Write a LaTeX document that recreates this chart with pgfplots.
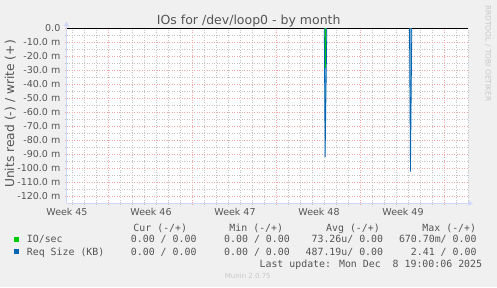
\documentclass[border=0pt]{standalone}
\usepackage{pgfplots}
\pgfplotsset{compat=1.18}
\usepackage{fontspec}
\setmainfont{DejaVu Sans}
\newfontfamily\monofont{DejaVu Sans Mono}
\usetikzlibrary{arrows.meta}
\definecolor{bgc}{HTML}{F0F0F0}
\definecolor{fontc}{HTML}{555555}
\definecolor{axisc}{HTML}{CFD6F8}
\definecolor{gridc}{HTML}{C4C4C4}
\definecolor{mgridc}{HTML}{F0A8A8}
\definecolor{ioc}{HTML}{00CC00}
\definecolor{reqc}{HTML}{0066B3}
\definecolor{wmc}{HTML}{C8C8C8}
\begin{document}
\begin{tikzpicture}[x=1bp,y=1bp]
\fill[bgc] (0,0) rectangle (497,287);
\useasboundingbox (0,0) rectangle (497,287);
\begin{axis}[
  at={(66.5bp,83.7bp)}, anchor=south west,
  scale only axis, width=401.8bp, height=175bp,
  xmin=-0.48, xmax=33, ymin=-125, ymax=0,
  axis background/.style={fill=white},
  axis lines=left,
  x axis line style={draw=axisc, line width=1bp, shorten >=-4.7bp, -{Triangle[length=5bp,width=5bp,fill=axisc]}},
  y axis line style={draw=axisc, line width=1bp, shorten >=-6.8bp, -{Triangle[length=5bp,width=5bp,fill=axisc]}},
  tick align=outside,
  major tick length=2bp, minor tick length=2bp,
  major tick style={draw=mgridc, line width=0.8bp},
  minor tick style={draw=gridc, line width=0.8bp},
  grid=both,
  major grid style={draw=mgridc, line width=0.9bp, dash pattern=on 1bp off 1.5bp},
  minor grid style={draw=gridc, line width=0.9bp, dash pattern=on 1bp off 1.5bp},
  xtick={3,10,17,24,31},
  xticklabels={},
  minor xtick={0,1,2,4,5,6,7,8,9,11,12,13,14,15,16,18,19,20,21,22,23,25,26,27,28,29,30,32,33},
  extra x ticks={-0.44,6.56,13.56,20.56,27.56},
  extra x tick labels={Week 45,Week 46,Week 47,Week 48,Week 49},
  extra x tick style={grid=none, major tick length=0pt},
  ytick={-120,-110,...,0},
  yticklabels={-120.0 m,-110.0 m,-100.0 m,-90.0 m,-80.0 m,-70.0 m,-60.0 m,-50.0 m,-40.0 m,-30.0 m,-20.0 m,-10.0 m,0.0},
  minor ytick={-115,-105,...,-5},
  tick label style={font=\fontsize{9.5bp}{11bp}\selectfont, text=fontc},
  yticklabel style={anchor=east, inner sep=0pt, xshift=-4bp},
  xticklabel style={anchor=base, inner sep=0pt, yshift=-12.5bp},
]
\addplot[black, line width=1.6bp] coordinates {(-0.48,0) (33,0)};
\addplot[draw=reqc, fill=reqc!55, line width=0.8bp] coordinates {(21.0,0) (21.07,-92.1) (21.21,0)};
\addplot[ioc, line width=0.75bp] coordinates {(21.08,0) (21.1,-28.5) (21.12,0)};
\addplot[draw=reqc, fill=reqc!55, line width=0.8bp] coordinates {(28.1,0) (28.18,-102.4) (28.29,0)};
\end{axis}
% title and labels
\node[text=fontc, font=\fontsize{12.5bp}{14bp}\selectfont, inner sep=0pt, anchor=base] at (248.7,263) {IOs for /dev/loop0 - by month};
\node[text=fontc, font=\fontsize{12.3bp}{14bp}\selectfont, inner sep=0pt, rotate=90] at (10.3,173) {Units read (-) / write (+)};
\node[text=wmc, font=\fontsize{7.5bp}{9bp}\selectfont, inner sep=0pt, rotate=-90] at (488,233.7) {RRDTOOL / TOBI OETIKER};
% legend
\begin{scope}[every node/.style={text=fontc, inner sep=0pt, font=\fontsize{9.9bp}{12bp}\monofont}]
\node[anchor=base east] at (187.3,55.8) {Cur (-/+)};
\node[anchor=base east] at (283.3,55.8) {Min (-/+)};
\node[anchor=base east] at (380,55.8) {Avg (-/+)};
\node[anchor=base east] at (476.3,55.8) {Max (-/+)};
\fill[ioc] (14,45.2) rectangle (19.3,50);
\node[anchor=base west] at (26.7,44.1) {IO/sec};
\node[anchor=base east] at (196.7,44.1) {0.00 / 0.00};
\node[anchor=base east] at (290,44.1) {0.00 / 0.00};
\node[anchor=base east] at (383.3,44.1) {73.26u/ 0.00};
\node[anchor=base east] at (476.7,44.1) {670.70m/ 0.00};
\fill[reqc] (14,33) rectangle (19.3,37.8);
\node[anchor=base west] at (26.7,31.7) {Req Size (KB)};
\node[anchor=base east] at (196.7,31.7) {0.00 / 0.00};
\node[anchor=base east] at (290,31.7) {0.00 / 0.00};
\node[anchor=base east] at (383.3,31.7) {487.19u/ 0.00};
\node[anchor=base east] at (476.7,31.7) {2.41 / 0.00};
\node[anchor=base east] at (482.3,19.7) {Last update: Mon Dec~~8 19:00:06 2025};
\end{scope}
\node[text=wmc, font=\fontsize{7bp}{8bp}\selectfont, inner sep=0pt] at (247.8,11) {Munin 2.0.75};
\end{tikzpicture}
\end{document}
